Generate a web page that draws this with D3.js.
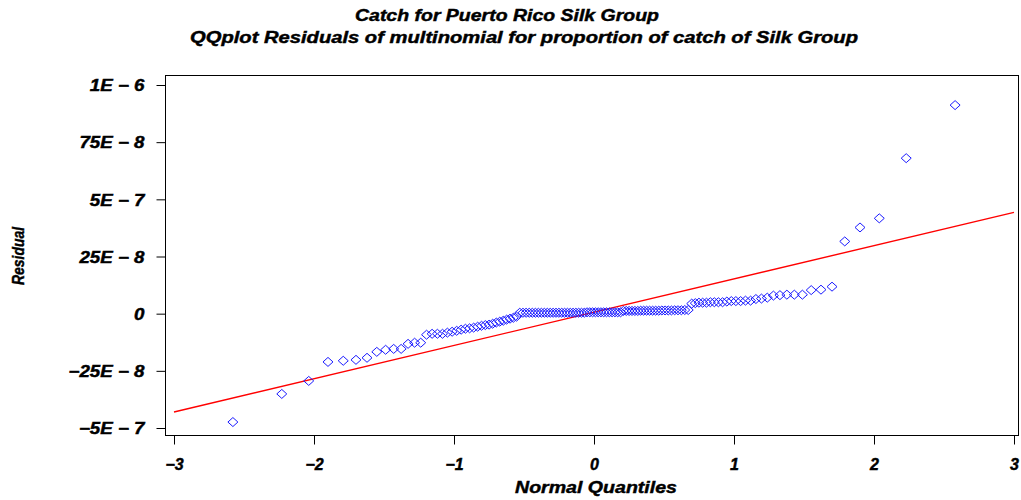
<!DOCTYPE html>
<html>
<head>
<meta charset="utf-8">
<script src="https://cdn.jsdelivr.net/npm/d3@7"></script>
<style>
  html, body { margin: 0; padding: 0; background: #fff; }
  svg { display: block; }
  text { font-family: "Liberation Sans", Arial, sans-serif; font-weight: bold; font-style: italic; fill: #000; stroke: #000; stroke-width: 0.45px; }
</style>
</head>
<body>
<svg id="chart" width="1021" height="500"></svg>
<script>
// Sorted residuals of the multinomial model (proportion of catch, Silk Group)
const residuals = [
  -47.4e-8, -35.1e-8, -29.4e-8, -21.1e-8, -20.6e-8, -20.2e-8, -19.3e-8, -16.7e-8, -15.8e-8, -15.4e-8,
  -15.4e-8, -13.2e-8, -12.7e-8, -12.7e-8, -9.2e-8, -8.8e-8, -8.8e-8, -8.8e-8, -8.3e-8, -7.9e-8,
  -7.5e-8, -7.0e-8, -6.6e-8, -6.4e-8, -6.1e-8, -5.7e-8, -5.3e-8, -5.0e-8, -4.8e-8, -4.4e-8,
  -3.9e-8, -3.5e-8, -3.1e-8, -2.6e-8, -2.2e-8, -1.8e-8, -1.3e-8, 0.4e-8, 0.4e-8, 0.4e-8,
  0.4e-8, 0.4e-8, 0.4e-8, 0.4e-8, 0.4e-8, 0.4e-8, 0.4e-8, 0.4e-8, 0.4e-8, 0.4e-8,
  0.4e-8, 0.4e-8, 0.4e-8, 0.4e-8, 0.4e-8, 0.4e-8, 0.4e-8, 0.4e-8, 0.4e-8, 0.4e-8,
  0.6e-8, 0.6e-8, 0.6e-8, 0.6e-8, 0.6e-8, 0.6e-8, 0.6e-8, 0.6e-8, 0.6e-8, 0.6e-8,
  0.6e-8, 0.6e-8, 0.6e-8, 1.2e-8, 1.2e-8, 1.2e-8, 1.2e-8, 1.2e-8, 1.2e-8, 1.3e-8,
  1.3e-8, 1.3e-8, 1.3e-8, 1.3e-8, 1.3e-8, 1.3e-8, 1.4e-8, 1.4e-8, 1.4e-8, 1.4e-8,
  1.5e-8, 1.5e-8, 1.5e-8, 1.6e-8, 1.6e-8, 4.4e-8, 4.6e-8, 4.8e-8, 4.8e-8, 4.8e-8,
  5.0e-8, 5.0e-8, 5.0e-8, 5.0e-8, 5.3e-8, 5.5e-8, 5.5e-8, 5.5e-8, 5.7e-8, 5.7e-8,
  6.4e-8, 6.6e-8, 7.0e-8, 7.9e-8, 8.1e-8, 8.3e-8, 8.3e-8, 8.3e-8, 10.3e-8, 10.5e-8,
  11.8e-8, 31.6e-8, 37.7e-8, 41.7e-8, 68.0e-8, 91.2e-8
];

// Reference normal line: residual = mu + sigma * quantile
const lineMu = 0.65e-8;
const lineSigma = 14.55e-8;

const titleLines = [
  "Catch for Puerto Rico Silk Group",
  "QQplot Residuals of multinomial for proportion of catch of Silk Group"
];
const xTickValues = [-3, -2, -1, 0, 1, 2, 3];
const xTickLabels = ["\u22123", "\u22122", "\u22121", "0", "1", "2", "3"];
const yTickValues = [-5e-7, -2.5e-7, 0, 2.5e-7, 5e-7, 7.5e-7, 1e-6];
const yTickLabels = ["\u22125E \u2212 7", "\u221225E \u2212 8", "0", "25E \u2212 8", "5E \u2212 7", "75E \u2212 8", "1E \u2212 6"];
const xTitle = "Normal Quantiles";
const yTitle = "Residual";

// Inverse standard normal CDF (Acklam's rational approximation)
function normInv(p) {
  const a = [-3.969683028665376e+01, 2.209460984245205e+02, -2.759285104469687e+02, 1.383577518672690e+02, -3.066479806614716e+01, 2.506628277459239e+00];
  const b = [-5.447609879822406e+01, 1.615858368580409e+02, -1.556989798598866e+02, 6.680131188771972e+01, -1.328068155288572e+01];
  const c = [-7.784894002430293e-03, -3.223964580411365e-01, -2.400758277161838e+00, -2.549732539343734e+00, 4.374664141464968e+00, 2.938163982698783e+00];
  const d = [7.784695709041462e-03, 3.224671290700398e-01, 2.445134137142996e+00, 3.754408661907416e+00];
  const pl = 0.02425;
  let q, r;
  if (p < pl) {
    q = Math.sqrt(-2 * Math.log(p));
    return (((((c[0]*q+c[1])*q+c[2])*q+c[3])*q+c[4])*q+c[5]) / ((((d[0]*q+d[1])*q+d[2])*q+d[3])*q+1);
  } else if (p <= 1 - pl) {
    q = p - 0.5; r = q * q;
    return (((((a[0]*r+a[1])*r+a[2])*r+a[3])*r+a[4])*r+a[5])*q / (((((b[0]*r+b[1])*r+b[2])*r+b[3])*r+b[4])*r+1);
  } else {
    q = Math.sqrt(-2 * Math.log(1 - p));
    return -(((((c[0]*q+c[1])*q+c[2])*q+c[3])*q+c[4])*q+c[5]) / ((((d[0]*q+d[1])*q+d[2])*q+d[3])*q+1);
  }
}

// Blom plotting positions for the sorted residuals
const n = residuals.length;
const points = residuals.map((v, i) => ({ q: normInv((i + 1 - 0.375) / (n + 0.25)), v }));

const svg = d3.select("#chart");
const frame = { left: 165, top: 75, right: 1018, bottom: 435 };

const x = d3.scaleLinear().domain([-3, 3]).range([174, 1014]);
const y = d3.scaleLinear().domain([-5e-7, 1e-6]).range([428, 85]);

// Titles
svg.append("text").attr("x", 507).attr("y", 21).attr("text-anchor", "middle")
  .attr("font-size", 16.5).attr("textLength", 304).attr("lengthAdjust", "spacingAndGlyphs")
  .text(titleLines[0]);
svg.append("text").attr("x", 524).attr("y", 43).attr("text-anchor", "middle")
  .attr("font-size", 16.5).attr("textLength", 668).attr("lengthAdjust", "spacingAndGlyphs")
  .text(titleLines[1]);

// Plot frame
svg.append("rect")
  .attr("x", frame.left + 0.5).attr("y", frame.top + 0.5)
  .attr("width", frame.right - frame.left).attr("height", frame.bottom - frame.top)
  .attr("fill", "none").attr("stroke", "#000").attr("stroke-width", 1);

// Axes
const yAxis = d3.axisLeft(y)
  .tickValues(yTickValues)
  .tickSize(9).tickPadding(12)
  .tickFormat((d, i) => yTickLabels[i]);
const gy = svg.append("g").attr("transform", `translate(${frame.left + 0.5},0)`).call(yAxis);
gy.select(".domain").remove();
gy.selectAll("text").attr("font-size", 16).attr("font-family", null).attr("dy", "0.36em")
  .each(function () {
    // the axis labels are set in a wide face: stretch each label horizontally
    const w = this.getComputedTextLength();
    d3.select(this).attr("textLength", w * 1.17).attr("lengthAdjust", "spacingAndGlyphs");
  });

const xAxis = d3.axisBottom(x)
  .tickValues(xTickValues)
  .tickSize(9).tickPadding(14)
  .tickFormat((d, i) => xTickLabels[i]);
const gx = svg.append("g").attr("transform", `translate(0,${frame.bottom + 0.5})`).call(xAxis);
gx.select(".domain").remove();
gx.selectAll("text").attr("font-size", 16).attr("font-family", null);

// Axis titles
svg.append("text").attr("x", 596).attr("y", 493).attr("text-anchor", "middle")
  .attr("font-size", 17).attr("textLength", 162).attr("lengthAdjust", "spacingAndGlyphs")
  .text(xTitle);
svg.append("text").attr("transform", "translate(24,256) rotate(-90)").attr("text-anchor", "middle")
  .attr("font-size", 17).attr("textLength", 58).attr("lengthAdjust", "spacingAndGlyphs")
  .text(yTitle);

// Reference line
svg.append("line")
  .attr("x1", x(-3)).attr("y1", y(lineMu + lineSigma * -3))
  .attr("x2", x(3)).attr("y2", y(lineMu + lineSigma * 3))
  .attr("stroke", "#ff0000").attr("stroke-width", 1.4);

// Diamond markers
const dw = 5, dh = 4.5;
svg.append("g").selectAll("path").data(points).join("path")
  .attr("d", d => {
    const cx = x(d.q), cy = y(d.v);
    return `M${cx},${cy - dh}L${cx + dw},${cy}L${cx},${cy + dh}L${cx - dw},${cy}Z`;
  })
  .attr("fill", "none").attr("stroke", "#1a1aff").attr("stroke-width", 1);
</script>
</body>
</html>
